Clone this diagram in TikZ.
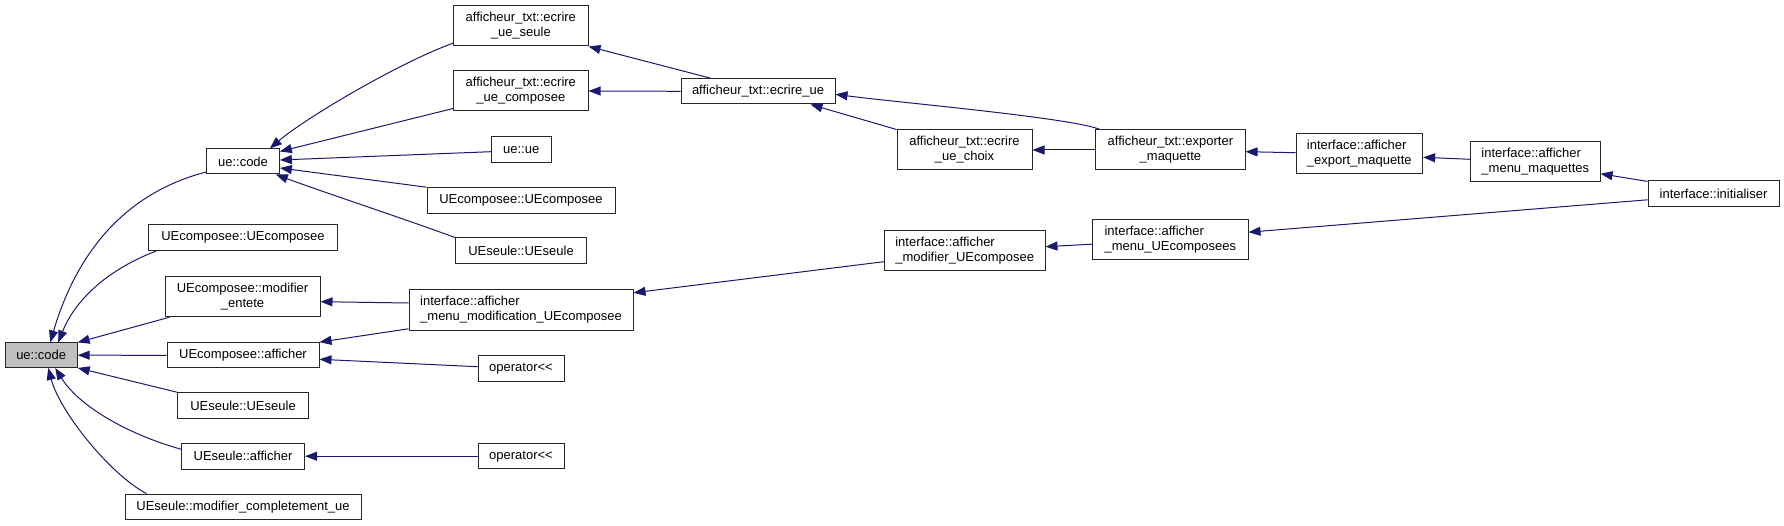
\documentclass[tikz,border=0pt]{standalone}
\usepackage{fontspec}
\setmainfont{Liberation Sans}[Ligatures=TeXOff]
\usetikzlibrary{arrows.meta,calc}
\definecolor{edgeblue}{HTML}{191970}
\definecolor{rootgray}{HTML}{BFBFBF}
\begin{document}
\begin{tikzpicture}[x=1pt,y=-1pt,
  box/.style={draw=black!85, line width=1pt, fill=white, inner sep=0pt,
    font=\fontsize{13}{15}\selectfont, align=center},
  lbox/.style={box, align=left},
  edge/.style={draw=edgeblue, line width=1pt, -{Triangle[length=12pt,width=9pt]}}]
\fill[white] (0,0) rectangle (1784,526);
\useasboundingbox (0,0) rectangle (1784,526);
% nodes
\node[box, fill=rootgray, minimum width=72pt, minimum height=24.5pt] (root) at (41.2,355.2) {ue::code};
\node[box, minimum width=72.7pt, minimum height=25pt] (code2) at (243,161.5) {ue::code};
\node[box, minimum width=189pt, minimum height=25.7pt] (uecL) at (243,237.8) {UEcomposee::UEcomposee};
\node[box, minimum width=155pt, minimum height=40pt] (modent) at (242.5,296.7) {UEcomposee::modifier\\\_entete};
\node[box, minimum width=152pt, minimum height=25.3pt] (uecaff) at (243,355.3) {UEcomposee::afficher};
\node[box, minimum width=131pt, minimum height=25.6pt] (uesL) at (243,405.5) {UEseule::UEseule};
\node[box, minimum width=123.2pt, minimum height=25.7pt] (uesaff) at (243,456.2) {UEseule::afficher};
\node[box, minimum width=236pt, minimum height=25.3pt] (modcomp) at (243,506.7) {UEseule::modifier\_completement\_ue};
\node[box, minimum width=134.5pt, minimum height=40.3pt] (ecrseule) at (520.8,25.8) {afficheur\_txt::ecrire\\\_ue\_seule};
\node[box, minimum width=134.5pt, minimum height=40pt] (ecrcomp) at (520.8,91) {afficheur\_txt::ecrire\\\_ue\_composee};
\node[box, minimum width=59.6pt, minimum height=26pt] (ueue) at (521.2,149.7) {ue::ue};
\node[box, minimum width=188pt, minimum height=25.6pt] (uecR) at (521,200.5) {UEcomposee::UEcomposee};
\node[box, minimum width=131.3pt, minimum height=26pt] (uesR) at (521,251) {UEseule::UEseule};
\node[box, minimum width=154pt, minimum height=25.3pt] (ecrue) at (758,91.3) {afficheur\_txt::ecrire\_ue};
\node[box, minimum width=135pt, minimum height=40pt] (ecrchoix) at (964.5,150) {afficheur\_txt::ecrire\\\_ue\_choix};
\node[box, minimum width=149.3pt, minimum height=40pt] (exporter) at (1170.4,150) {afficheur\_txt::exporter\\\_maquette};
\node[lbox, minimum width=126.6pt, minimum height=40pt] (expmaq) at (1359.3,154) {interface::afficher\\\_export\_maquette};
\node[lbox, minimum width=129.4pt, minimum height=40.3pt] (menumaq) at (1535.3,161.8) {interface::afficher\\\_menu\_maquettes};
\node[box, minimum width=131pt, minimum height=25.7pt] (init) at (1713.5,193.8) {interface::initialiser};
\node[lbox, minimum width=160.6pt, minimum height=40pt] (modUEc) at (964.7,251) {interface::afficher\\\_modifier\_UEcomposee};
\node[lbox, minimum width=155.4pt, minimum height=40.3pt] (menuUEcs) at (1170.3,239.2) {interface::afficher\\\_menu\_UEcomposees};
\node[lbox, minimum width=224pt, minimum height=40pt] (menumod) at (521,310) {interface::afficher\\\_menu\_modification\_UEcomposee};
\node[box, minimum width=86pt, minimum height=25.6pt] (op1) at (521,368.5) {operator<<};
\node[box, minimum width=86pt, minimum height=25.5pt] (op2) at (521,456.2) {operator<<};
% edges (caller -> callee)
\draw[edge] ($(code2.south west)+(0,-2.5)$) .. controls +(-85,22) and +(25,-85) .. ($(root.north)+(9,0)$);
\draw[edge] ($(uecL.south west)+(8,0)$) .. controls +(-45,17) and +(18,-45) .. ($(root.north)+(17,0)$);
\draw[edge] ($(modent.south west)+(5,0)$) -- (root.north east);
\draw[edge] (uecaff.west) -- (root.east);
\draw[edge] (uesL.north west) -- (root.south east);
\draw[edge] ($(uesaff.west)+(0,-7)$) .. controls +(-50,-14) and +(25,40) .. ($(root.south)+(14,0)$);
\draw[edge] ($(modcomp.north west)+(22,0)$) .. controls +(-35,-18) and +(12,45) .. ($(root.south)+(7,0)$);
\draw[edge] ($(ecrseule.south west)+(0,-3.3)$) .. controls +(-55,20) and +(35,-30) .. ($(code2.north east)+(-10,0)$);
\draw[edge] ($(ecrcomp.south west)+(0,-3)$) -- ($(code2.east)+(0,-10)$);
\draw[edge] ($(ueue.west)+(0,2)$) -- ($(code2.east)+(0,-1.5)$);
\draw[edge] (uecR.north west) -- ($(code2.east)+(0,6.5)$);
\draw[edge] (uesR.north west) .. controls +(-40,-15) and +(40,15) .. ($(code2.south east)+(-4,0)$);
\draw[edge] ($(ecrue.north west)+(30,0)$) -- (ecrseule.south east);
\draw[edge] (ecrue.west) -- (ecrcomp.east);
\draw[edge] (ecrchoix.north west) -- ($(ecrue.south east)+(-25,0)$);
\draw[edge] ($(exporter.north west)+(5,0)$) .. controls +(-30,-12) and +(60,8) .. ($(ecrue.east)+(0,3)$);
\draw[edge] (exporter.west) -- (ecrchoix.east);
\draw[edge] ($(expmaq.west)+(0,-1.3)$) -- ($(exporter.east)+(0,1.7)$);
\draw[edge] ($(menumaq.west)+(0,-2.5)$) -- ($(expmaq.east)+(0,3.3)$);
\draw[edge] ($(init.north west)+(0,1)$) -- ($(menumaq.south east)+(0,-8.7)$);
\draw[edge] ($(init.west)+(0,6)$) -- ($(menuUEcs.east)+(0,-7)$);
\draw[edge] ($(menuUEcs.west)+(0,5)$) -- ($(modUEc.east)+(0,-4.3)$);
\draw[edge] ($(modUEc.west)+(0,10.7)$) -- ($(menumod.north east)+(0,3.3)$);
\draw[edge] ($(menumod.west)+(0,-7)$) -- ($(modent.east)+(0,5)$);
\draw[edge] ($(menumod.south west)+(0,-1.7)$) -- (uecaff.north east);
\draw[edge] ($(op1.west)+(0,-1.8)$) -- ($(uecaff.east)+(0,4)$);
\draw[edge] (op2.west) -- (uesaff.east);
\end{tikzpicture}
\end{document}
